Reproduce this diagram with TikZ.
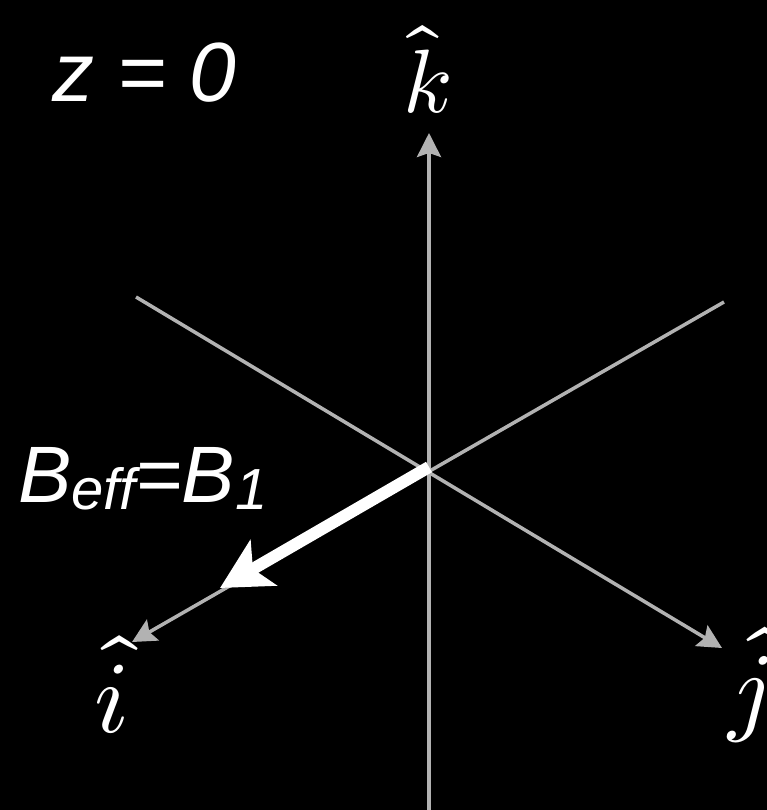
\documentclass[tikz,border=0pt]{standalone}
\usepackage{fontspec}
\usepackage{unicode-math}
\setmainfont{Liberation Sans}
\setmathfont{Latin Modern Math}
\usetikzlibrary{arrows.meta}
\definecolor{axisgray}{RGB}{178,178,178}
\tikzset{
  axis/.style={draw=axisgray, line width=3.5pt},
  axisarrow/.style={axis, -{Stealth[length=24pt,width=24pt,inset=4pt]}},
  bvec/.style={draw=white, line width=12pt, -{Stealth[length=50pt,width=52pt,inset=12pt]}},
  lbl/.style={text=white, inner sep=0pt},
}
\begin{document}
\begin{tikzpicture}[x=1pt,y=-1pt]
  \fill[black] (0,0) rectangle (767,810);
  \useasboundingbox (0,0) rectangle (767,810);
  \coordinate (O) at (429,467);
  \coordinate (ktip) at (429,133);
  \coordinate (kbot) at (429,810);
  \coordinate (istart) at (724,302);
  \coordinate (itip) at (132,642);
  \coordinate (jstart) at (136,297);
  \coordinate (jtip) at (722,648);
  \coordinate (btip) at (220,588);
  \draw[axisarrow] (kbot) -- (ktip);
  \draw[axisarrow] (istart) -- (itip);
  \draw[axisarrow] (jstart) -- (jtip);
  \draw[bvec] (O) -- (btip);
  \node[lbl, anchor=base west] (zlabel) at (52,102)
    {\fontsize{84}{84}\selectfont\itshape z = 0};
  \node[lbl, anchor=base west] (blabel) at (18,502)
    {\fontsize{80}{80}\selectfont\itshape B\raisebox{-7pt}{\fontsize{58}{58}\selectfont eff}\kern-1pt=B\raisebox{-7pt}{\fontsize{58}{58}\selectfont 1}};
  \node[lbl, anchor=base] (klabel) at (428,113)
    {\fontsize{90}{90}\selectfont$\hat{k}$};
  \node[lbl, anchor=base] (ilabel) at (112,732)
    {\fontsize{102}{102}\selectfont$\hat{i}$};
  \node[lbl, anchor=base] (jlabel) at (750,722)
    {\fontsize{100}{100}\selectfont$\hat{j}$};
\end{tikzpicture}
\end{document}
